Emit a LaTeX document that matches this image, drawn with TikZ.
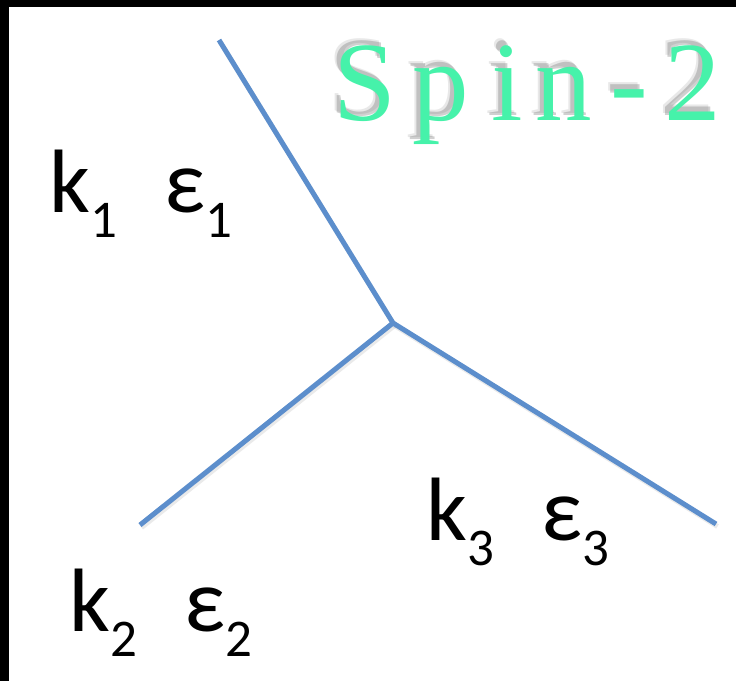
\documentclass[tikz,border=0pt]{standalone}
\usepackage{fontspec}
\setmainfont{Carlito}
\newfontfamily\titleserif{Liberation Serif}
\definecolor{lineblue}{RGB}{92,142,204}
\definecolor{spingreen}{RGB}{70,242,170}
\begin{document}
\begin{tikzpicture}[x=1pt,y=-1pt,
  prop/.style={draw=lineblue,line width=5pt,line cap=butt},
  propshadow/.style={draw=black!40,line width=5pt,opacity=0.2},
  lbl/.style={inner sep=0pt,anchor=base west,font=\fontsize{90}{100}\selectfont},
  letter/.style={inner sep=0pt,anchor=base west,text=spingreen,font=\titleserif\fontsize{113}{120}\selectfont},
  shadowletter/.style={inner sep=0pt,anchor=base west,text=black!60,opacity=0.3,font=\titleserif\fontsize{113}{120}\selectfont}]
\useasboundingbox (0,0) rectangle (736,681);
\fill[white] (0,0) rectangle (736,681);
\fill[black] (0,0) rectangle (736,7);
\fill[black] (0,0) rectangle (9,681);
% vertices
\coordinate (v) at (393,323);
\coordinate (e1) at (219,40);
\coordinate (e2) at (140,525);
\coordinate (e3) at (716,524);
% faint shadows
\draw[propshadow] ([shift={(1.5,2.5)}]e1) -- ([shift={(1.5,2.5)}]v) -- ([shift={(1.5,2.5)}]e2);
\draw[propshadow] ([shift={(1.5,2.5)}]v) -- ([shift={(1.5,2.5)}]e3);
\draw[prop] (e1) -- (v) -- (e2);
\draw[prop] (v) -- (e3);
% labels
\newcommand{\subs}[1]{\raisebox{-25pt}{\fontsize{53}{53}\selectfont #1}}
\node[lbl] (l1) at (49,212) {k\subs{1}\hspace{48pt}ε\subs{1}};
\node[lbl] (l2) at (69,631) {k\subs{2}\hspace{48pt}ε\subs{2}};
\node[lbl] (l3) at (426,540) {k\subs{3}\hspace{48pt}ε\subs{3}};
% Spin-2 title
\foreach \ch/\xx/\nm in {S/333/s1,p/412/s2,i/491/s3,n/535/s4,-/610/s5,2/664/s6}{
  \node[shadowletter] at (\xx-4,115) {\ch};
  \node[shadowletter,opacity=0.15] at (\xx-6,113) {\ch};
  \node[letter] (\nm) at (\xx,120) {\ch};
}
\end{tikzpicture}
\end{document}
